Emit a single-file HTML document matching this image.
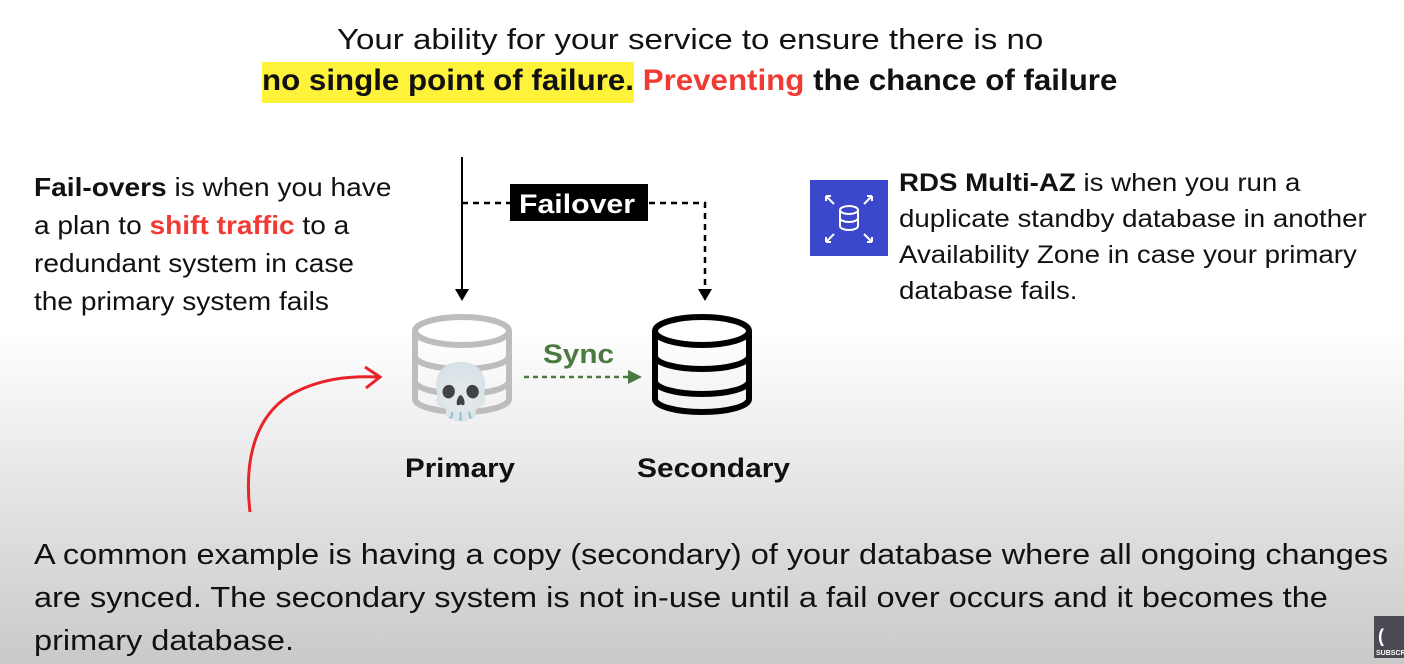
<!DOCTYPE html>
<html><head><style>
body{margin:0;width:1404px;height:664px;overflow:hidden;position:relative;font-family:"Liberation Sans",sans-serif;background:linear-gradient(to bottom,#fff 0,#fff 330px,#e8e8e8 470px,#c9c9c9 664px);}
.t{position:absolute;white-space:nowrap;color:#111;transform-origin:0 0;}
</style></head><body>
<div class="t" style="left:337px;top:24px;font-size:29px;transform:scaleX(1.14);">Your ability for your service to ensure there is no</div>
<div class="t" style="left:262px;top:62px;width:372px;height:41px;background:#fff23a;"></div>
<div class="t" style="left:262px;top:64px;font-size:30px;font-weight:bold;transform:scaleX(1.043);">no single point of failure. <span style="color:#f03a32">Preventing</span> the chance of failure</div>

<div class="t" style="left:34px;top:168px;font-size:26px;line-height:38px;transform:scaleX(1.08);">
<b>Fail-overs</b> is when you have<br>a plan to <b style="color:#f03a32">shift traffic</b> to a<br>redundant system in case<br>the primary system fails</div>

<div class="t" style="left:899px;top:165px;font-size:25px;line-height:36px;transform:scaleX(1.107);">
<b>RDS Multi-AZ</b> is when you run a<br>duplicate standby database in another<br>Availability Zone in case your primary<br>database fails.</div>

<svg style="position:absolute;left:0;top:0" width="1404" height="664">
<rect x="810" y="180" width="78" height="76" fill="#3b48cc"/>
<g stroke="#fff" stroke-width="2" fill="none">
<ellipse cx="849" cy="210" rx="9" ry="4"/><path d="M840 210v16a9 4 0 0 0 18 0v-16M840 218a9 4 0 0 0 18 0"/>
<path d="M826 196l8 8M826 196h5M826 196v5M872 196l-8 8M872 196h-5M872 196v5M826 242l8-8M826 242h5M826 242v-5M872 242l-8-8M872 242h-5M872 242v-5"/>
</g>
<line x1="462" y1="157" x2="462" y2="290" stroke="#000" stroke-width="2"/>
<polygon points="455,289 469,289 462,301" fill="#000"/>
<path d="M462 203H705V290" stroke="#000" stroke-width="2.5" fill="none" stroke-dasharray="6,5"/>
<polygon points="698,289 712,289 705,301" fill="#000"/>
<rect x="510" y="184" width="138" height="37" fill="#000"/>
<text x="519" y="213" fill="#fff" font-size="27" font-weight="bold" textLength="116" lengthAdjust="spacingAndGlyphs">Failover</text>
<g stroke="#bdbdbd" stroke-width="6" fill="none">
<ellipse cx="462" cy="331" rx="47" ry="14"/>
<path d="M415 331v68a47 13 0 0 0 94 0v-68M415 356a47 13 0 0 0 94 0M415 381a47 13 0 0 0 94 0"/>
</g>
<text x="461" y="410" font-size="54" text-anchor="middle">💀</text>
<g stroke="#000" stroke-width="6" fill="none">
<ellipse cx="702" cy="331" rx="47" ry="14"/>
<path d="M655 331v68a47 13 0 0 0 94 0v-68M655 356a47 13 0 0 0 94 0M655 381a47 13 0 0 0 94 0"/>
</g>
<text x="543" y="363" fill="#4a7a3f" font-size="27" font-weight="bold" textLength="71" lengthAdjust="spacingAndGlyphs">Sync</text>
<line x1="524" y1="377" x2="630" y2="377" stroke="#4a7a3f" stroke-width="2.5" stroke-dasharray="5,4"/>
<polygon points="628,370 642,377 628,384" fill="#4a7a3f"/>
<text x="405" y="477" font-size="27" font-weight="bold" fill="#111" textLength="110" lengthAdjust="spacingAndGlyphs">Primary</text>
<text x="637" y="477" font-size="27" font-weight="bold" fill="#111" textLength="153" lengthAdjust="spacingAndGlyphs">Secondary</text>
<path d="M250 512C245 470 250 420 290 395C320 378 350 376 378 377" stroke="#e8242a" stroke-width="3" fill="none"/>
<path d="M365 367L380 377L366 388" stroke="#e8242a" stroke-width="3" fill="none"/>
<rect x="1374" y="616" width="30" height="42" fill="#4a4a52"/>
<text x="1378" y="642" fill="#fff" font-size="18" font-weight="bold">(</text>
<text x="1376" y="655" fill="#fff" font-size="7" font-weight="bold">SUBSCR</text>
</svg>

<div class="t" style="left:34px;top:534px;font-size:29px;line-height:43px;color:#111;transform:scaleX(1.12);">A common example is having a copy (secondary) of your database where all ongoing changes<br>are synced. The secondary system is not in-use until a fail over occurs and it becomes the<br>primary database.</div>
</body></html>
